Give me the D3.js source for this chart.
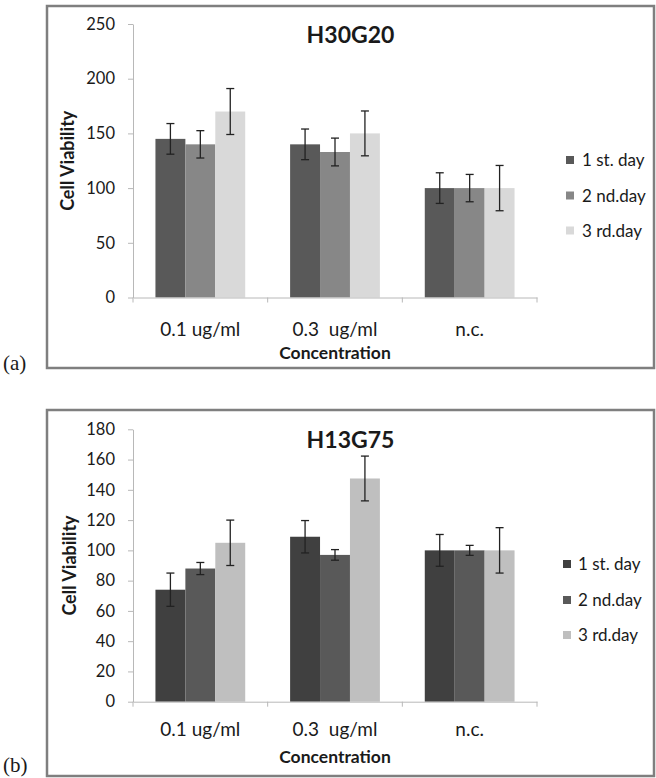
<!DOCTYPE html>
<html>
<head>
<meta charset="utf-8">
<script src="https://cdn.jsdelivr.net/npm/d3@7"></script>
<style>
  html, body { margin: 0; padding: 0; background: #fff; }
  svg { display: block; }
  text { font-family: Lato, "Open Sans", sans-serif; fill: #1a1a1a; }
</style>
</head>
<body>
<svg id="chart" width="656" height="778"></svg>
<script>
// ---------- DATA ----------
const categories = ["0.1 ug/ml", "0.3  ug/ml", "n.c."];
const seriesNames = ["1 st. day", "2 nd.day", "3 rd.day"];

// Panel (a) H30G20
const aDay1 = [145, 140, 100];
const aDay2 = [140, 133, 100];
const aDay3 = [170, 150, 100];
const aDay1Err = [14, 14, 14];
const aDay2Err = [12.5, 12.7, 12.5];
const aDay3Err = [21, 20.5, 20.7];
const aTicks = [0, 50, 100, 150, 200, 250];

// Panel (b) H13G75
const bDay1 = [74, 109, 100];
const bDay2 = [88, 97, 100];
const bDay3 = [105, 147.5, 100];
const bDay1Err = [11, 10.7, 10.5];
const bDay2Err = [4, 3.5, 3.3];
const bDay3Err = [15, 14.8, 15];
const bTicks = [0, 20, 40, 60, 80, 100, 120, 140, 160, 180];

// ---------- LAYOUT ----------
const svg = d3.select("#chart");

function drawPanel(p) {
  const g = svg.append("g");
  // frame
  g.append("rect")
    .attr("x", p.frame[0]).attr("y", p.frame[1])
    .attr("width", p.frame[2]).attr("height", p.frame[3])
    .attr("fill", "#fff").attr("stroke", "#7f7f7f").attr("stroke-width", 2.5);

  const x = d3.scaleBand().domain(categories).range([p.left, p.right]).padding(0);
  const xi = d3.scaleBand().domain(seriesNames).range([0, x.bandwidth()])
    .paddingInner(0).paddingOuter(0.75);
  const y = d3.scaleLinear().domain([p.ticks[0], p.ticks[p.ticks.length - 1]])
    .range([p.bottom, p.top]);

  // y axis
  const ya = g.append("g").attr("transform", `translate(${p.left},0)`)
    .call(d3.axisLeft(y).tickValues(p.ticks).tickSize(5).tickPadding(13).tickSizeOuter(0));
  ya.select(".domain").attr("stroke", "#b8b8b8");
  ya.selectAll(".tick line").attr("stroke", "#b8b8b8");
  ya.selectAll(".tick text").style("font-size", "16.5px").style("font-family", "Lato").attr("fill", "#1a1a1a");

  // bars
  const rows = categories.map((c, i) => ({
    cat: c,
    vals: seriesNames.map((s, j) => ({ s, v: p.series[j][i], e: p.errs[j][i], col: p.colors[j] }))
  }));
  const grp = g.selectAll(".grp").data(rows).enter().append("g")
    .attr("transform", d => `translate(${x(d.cat)},0)`);
  grp.selectAll("rect").data(d => d.vals).enter().append("rect")
    .attr("x", d => xi(d.s)).attr("width", xi.bandwidth())
    .attr("y", d => y(d.v)).attr("height", d => y(0) - y(d.v))
    .attr("fill", d => d.col);

  // x axis
  const xa = g.append("g").attr("transform", `translate(0,${p.bottom})`)
    .call(d3.axisBottom(x).tickSize(0).tickPadding(0));
  xa.select(".domain").attr("stroke", "#b8b8b8");
  xa.selectAll(".tick text").remove();
  const bounds = categories.map(c => x(c)).concat([x.range()[1]]);
  g.selectAll(".btick").data(bounds).enter().append("line")
    .attr("x1", d => d).attr("x2", d => d)
    .attr("y1", p.bottom).attr("y2", p.bottom + 5)
    .attr("stroke", "#b8b8b8");
  g.selectAll(".clab").data(categories).enter().append("text")
    .attr("x", d => x(d) + x.bandwidth() / 2).attr("y", p.catY)
    .attr("text-anchor", "middle").style("font-size", "19px")
    .style("white-space", "pre").text(d => d);

  // error bars
  const eb = grp.selectAll(".eb").data(d => d.vals).enter().append("g")
    .attr("transform", d => `translate(${xi(d.s) + xi.bandwidth() / 2},0)`);
  eb.append("line").attr("x1", 0).attr("x2", 0)
    .attr("y1", d => y(d.v + d.e)).attr("y2", d => y(d.v - d.e))
    .attr("stroke", "#222").attr("stroke-width", 1.3);
  eb.append("line").attr("x1", -4).attr("x2", 4)
    .attr("y1", d => y(d.v + d.e)).attr("y2", d => y(d.v + d.e))
    .attr("stroke", "#222").attr("stroke-width", 1.3);
  eb.append("line").attr("x1", -4).attr("x2", 4)
    .attr("y1", d => y(d.v - d.e)).attr("y2", d => y(d.v - d.e))
    .attr("stroke", "#222").attr("stroke-width", 1.3);

  // titles
  g.append("text").attr("x", p.frame[0] + p.frame[2] / 2).attr("y", p.titleY)
    .attr("text-anchor", "middle").style("font-size", "23px").style("font-weight", "bold")
    .text(p.title);
  g.append("text").attr("x", (p.left + p.right) / 2).attr("y", p.xTitleY)
    .attr("text-anchor", "middle").style("font-size", "17.5px").style("font-weight", "bold")
    .text("Concentration");
  g.append("text")
    .attr("transform", `translate(${p.yTitleX},${(p.top + p.bottom) / 2}) rotate(-90)`)
    .attr("text-anchor", "middle").style("font-size", "18px").style("font-weight", "bold")
    .text("Cell Viability");

  // legend
  const lg = g.selectAll(".lg").data(seriesNames).enter().append("g")
    .attr("transform", (d, i) => `translate(${p.legX},${p.legY[i]})`);
  lg.append("rect").attr("x", 0).attr("y", -4).attr("width", 8).attr("height", 8)
    .attr("fill", (d, i) => p.colors[i]);
  lg.append("text").attr("x", p.legTextDx).attr("y", 0).attr("dy", "0.36em")
    .style("font-size", "17px").text(d => d);

  // panel label
  g.append("text").attr("x", 3).attr("y", p.labelY)
    .style("font-family", "'Liberation Serif', 'Times New Roman', serif")
    .style("font-size", "21px").text(p.label);
}

drawPanel({
  frame: [47, 6, 607, 362], left: 133, right: 537, top: 24, bottom: 297.5,
  ticks: aTicks, series: [aDay1, aDay2, aDay3], errs: [aDay1Err, aDay2Err, aDay3Err],
  colors: ["#595959", "#878787", "#d9d9d9"],
  title: "H30G20", titleY: 43, catY: 336, xTitleY: 359, yTitleX: 74,
  legX: 566, legTextDx: 16, legY: [160, 195.5, 230.5], label: "(a)", labelY: 370
});

drawPanel({
  frame: [47, 410, 607, 366], left: 133, right: 537, top: 429.3, bottom: 701.7,
  ticks: bTicks, series: [bDay1, bDay2, bDay3], errs: [bDay1Err, bDay2Err, bDay3Err],
  colors: ["#404040", "#595959", "#bfbfbf"],
  title: "H13G75", titleY: 448, catY: 736, xTitleY: 763, yTitleX: 76,
  legX: 563, legTextDx: 15, legY: [564, 600, 635], label: "(b)", labelY: 772
});
</script>
</body>
</html>
